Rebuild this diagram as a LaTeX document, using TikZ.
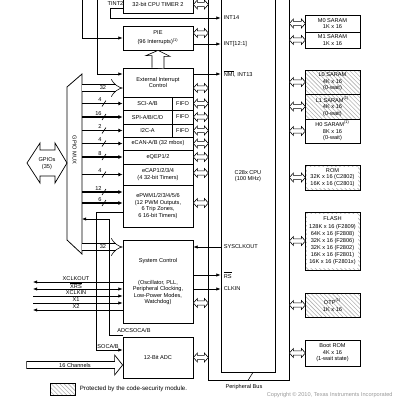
\documentclass[tikz,border=0pt]{standalone}
\usepackage{fontspec}
\setmainfont{Liberation Sans}
\usetikzlibrary{arrows.meta,patterns}

\newcommand{\bidir}[2]{\draw[fill=white,line width=0.4pt] (#1) -- ++(4,-4.5) -- ++(0,2.3) -- ++(#2-8,0) -- ++(0,-2.3) -- ++(4,4.5) -- ++(-4,4.5) -- ++(0,-2.3) -- ++(-#2+8,0) -- ++(0,2.3) -- cycle;}

\begin{document}
\begin{tikzpicture}[x=0.25mm,y=-0.25mm,
  every node/.style={font=\fontsize{4}{4.6}\selectfont,align=center,inner sep=0.4pt},
  blk/.style={draw,line width=0.55pt,inner sep=0pt},
  per/.style={blk,minimum width=17.5mm},
  mem/.style={blk,minimum width=13.75mm},
  prot/.style={pattern=north west lines,pattern color=black!30},
  pin/.style={line width=0.45pt,-{Latex[length=3pt,width=2.4pt]}},
  gp/.style={line width=0.9pt,-{Latex[length=3pt,width=2.8pt]}},
  bus32/.style={double,double distance=4.2pt,line width=0.4pt,-{Implies}}]
\clip (0,0) rectangle (400,400);

\node[blk,minimum width=20.25mm,minimum height=96.25mm] (pbus) at (248.5,187.5) {};
\node[blk,minimum width=13.5mm,minimum height=94.25mm] (cpu) at (248,183.5) {};
\node (cpulbl) at (248,176) {C28x CPU\\(100 MHz)};
\node (pblbl) at (244,387) {Peripheral Bus};
\draw ([xshift=-0.125mm]pbus.south) -- ([xshift=1.25mm]cpu.south);

\node[per,minimum height=4.25mm] (tim2) at (158,4.5) {32-bit CPU TIMER 2};
\node[per,minimum height=6mm] (pie) at (158,38) {PIE\\[1.8pt](96 Interrupts)\textsuperscript{(1)}};
\node[per,minimum height=7.25mm] (extint) at (158,82.5) {External Interrupt\\Control};
\node[blk,minimum width=12.25mm,minimum height=3.25mm] (sci) at (147.5,103.5) {SCI-A/B};
\node[blk,minimum width=5.25mm,minimum height=3.25mm] (scif) at (182.5,103.5) {FIFO};
\node[blk,minimum width=12.25mm,minimum height=3.5mm] (spi) at (147.5,117) {SPI-A/B/C/D};
\node[blk,minimum width=5.25mm,minimum height=3.5mm] (spif) at (182.5,117) {FIFO};
\node[blk,minimum width=12.25mm,minimum height=3.25mm] (i2c) at (147.5,130.5) {I2C-A};
\node[blk,minimum width=5.25mm,minimum height=3.25mm] (i2cf) at (182.5,130.5) {FIFO};
\node[per,minimum height=3.25mm] (ecan) at (158,143.5) {eCAN-A/B (32 mbox)};
\node[per,minimum height=3.5mm] (eqep) at (158,157) {eQEP1/2};
\node[per,minimum height=5.25mm] (ecap) at (158,174.5) {eCAP1/2/3/4\\(4 32-bit Timers)};
\node[per,minimum height=10.5mm] (epwm) at (158,206) {ePWM1/2/3/4/5/6\\(12 PWM Outputs,\\6 Trip Zones,\\6 16-bit Timers)};
\node[per,minimum height=20.75mm] (sysctl) at (158,281.5) {System Control\\[11pt](Oscillator, PLL,\\Peripheral Clocking,\\Low-Power Modes,\\Watchdog)};
\node[per,minimum height=10.25mm] (adc) at (158,357.5) {12-Bit ADC};

\node[mem,minimum height=4.25mm] (m0) at (332.5,23.5) {M0 SARAM\\1K x 16};
\node[mem,minimum height=4mm] (m1) at (332.5,40) {M1 SARAM\\1K x 16};
\node[mem,prot,minimum height=6mm] (l0) at (332.5,82) {L0 SARAM\\4K x 16\\(0-wait)};
\node[mem,prot,minimum height=6.25mm] (l1) at (332.5,106.5) {L1 SARAM\textsuperscript{(1)}\\4K x 16\\(0-wait)};
\node[mem,minimum height=6mm] (h0) at (332.5,131) {H0 SARAM\textsuperscript{(1)}\\8K x 16\\(0-wait)};
\node[mem,prot,minimum height=6.25mm] (rom) at (332.5,177.5) {};
\node[fill=white,minimum width=12.75mm,minimum height=5.25mm] (romtxt) at (rom) {ROM\\32K x 16 (C2802)\\16K x 16 (C2801)};
\node[mem,prot,minimum height=14.5mm] (flash) at (332.5,241) {};
\node[fill=white,minimum width=12.75mm,minimum height=13.5mm] (flashtxt) at (flash) {FLASH\\[0.5pt]128K x 16 (F2809)\\[0.5pt]64K x 16 (F2808)\\[0.5pt]32K x 16 (F2806)\\[0.5pt]32K x 16 (F2802)\\[0.5pt]16K x 16 (F2801)\\[0.5pt]16K x 16 (F2801x)};
\node[mem,prot,minimum height=6mm] (otp) at (332.5,305) {OTP\textsuperscript{(1)}\\1K x 16};
\node[mem,minimum height=6.5mm] (boot) at (332.5,353) {Boot ROM\\4K x 16\\(1-wait state)};

\coordinate (pie1) at ([yshift=1.25mm]pie.east);
\coordinate (ext1) at ([yshift=-1.375mm]extint.east);
\coordinate (ecap1) at ([yshift=0.375mm]ecap.east);
\coordinate (epwm1) at ([yshift=0.75mm]epwm.east);
\coordinate (sys1) at ([yshift=-5.375mm]sysctl.east);
\foreach \a in {tim2.east,pie1,ext1,scif.east,spif.east,i2cf.east,ecan.east,eqep.east,ecap1,epwm1,sys1,adc.east}
  \bidir{\a}{15};
\foreach \m in {m0,m1,l0,l1,h0,rom,flash,otp,boot}
  \bidir{\m.west -| pbus.east}{16};

\draw[fill=white,line width=0.45pt] ([xshift=-1.5mm]extint.north) -- ++(0,-12) -- ++(-6,0) -- (pie.south) -- ++(12,6) -- ++(-6,0) -- ++(0,12);

\coordinate (tint0) at (82,-5);
\coordinate (tint1) at (97,-5);
\coordinate (t2) at (110,18);
\coordinate (nmi) at ([yshift=2.125mm]extint.west);
\draw[pin] ([yshift=-1mm]tim2.west) -| (t2) -- (t2 -| cpu.west);
\node (tint2lbl) at (115.5,3.5) {TINT2};
\draw[pin] (tint0) |- (pie.west);
\draw[pin] (tint1) |- (nmi);
\draw[pin] ([yshift=-1.5mm]pie.east) -- ([yshift=-1.5mm]pie.east -| cpu.west);
\draw[pin] ([yshift=2.125mm]extint.east) -- ([yshift=2.125mm]extint.east -| cpu.west);
\node[anchor=west] (int14) at (223,18) {INT14};
\node[anchor=west] (int12) at (223,44) {INT[12:1]};
\node[anchor=west] (int13) at (223,74) {$\overline{\mbox{NMI}}$, INT13};

\coordinate (sck) at ([yshift=8.625mm]sysctl.east);
\coordinate (rs) at ([yshift=1.625mm]sysctl.east);
\coordinate (clk) at ([yshift=-1.875mm]sysctl.east);
\draw[pin] (sck -| cpu.west) -- (sck);
\draw[pin] (rs) -- (rs -| cpu.west);
\draw[pin] (clk) -- (clk -| cpu.west);
\node[anchor=west] (scklbl) at (223,247) {SYSCLKOUT};
\node[anchor=west] (rslbl) at (223,275) {$\overline{\mbox{RS}}$};
\node[anchor=west] (clklbl) at (223,289) {CLKIN};

\draw[line width=0.55pt] (67,87) -- (82,74) -- (82,254) -- (67,240) -- cycle;
\coordinate (muxE) at (82,0);
\node[rotate=-90] (muxlbl) at (74.5,150) {GPIO MUX};
\draw[line width=0.5pt] (27,163) -- (40,143) -- (40,150) -- (55,150) -- (55,143) -- (67,163) -- (55,183) -- (55,176) -- (40,176) -- (40,183) -- cycle;
\node (gpiolbl) at (47,163.5) {GPIOs\\(35)};

\coordinate (pw1) at ([yshift=3.5mm]epwm.west);
\coordinate (pw2) at ([yshift=0.75mm]epwm.west);
\foreach \p/\n in {sci.west/4,spi.west/16,i2c.west/2,ecan.west/4,eqep.west/8,ecap.west/4,pw1/12,pw2/6}{
  \draw[gp] (\p -| muxE) -- (\p);
  \path (\p -| muxE) ++(22,0) coordinate (s);
  \draw[line width=0.4pt] (s) ++(-2,3) -- ++(4,-6);
  \node[anchor=south east] at ([xshift=-0.4mm,yshift=0.2mm]s) {\n};
}
\coordinate (e32) at ([yshift=-1.375mm]extint.west);
\coordinate (s32) at ([yshift=8.625mm]sysctl.west);
\draw[bus32] (e32 -| muxE) -- (e32);
\draw[bus32] (s32 -| muxE) -- (s32);
\node (e32lbl) at (103,88) {32};
\node (s32lbl) at (103,247) {32};

\coordinate (soc1) at ([yshift=-1.5mm]epwm.west);
\coordinate (soc2) at ([yshift=1.875mm]adc.west);
\draw[pin] (soc1) -- ++(-26,0) |- (soc2);
\node (soclbl) at (108,346) {SOCA/B};
\coordinate (adcs) at ([yshift=0.25mm]adc.north west);
\coordinate (sync) at ([yshift=-3.25mm]epwm.west);
\draw[pin] (adcs) -- ++(-13,0) |- (sync -| muxE);
\node (adcslbl) at (134,330) {ADCSOCA/B};

\coordinate (xco) at (33,282);
\coordinate (xrs) at (33,289);
\coordinate (xci) at (33,296);
\coordinate (xone) at (33,303);
\coordinate (xtwo) at (33,310);
\draw[pin] (xco -| sysctl.west) -- (xco);
\draw[pin,{Latex[length=3pt,width=2.4pt]}-{Latex[length=3pt,width=2.4pt]}] (xrs) -- (xrs -| sysctl.west);
\draw[pin] (xci) -- (xci -| sysctl.west);
\draw[pin] (xone) -- (xone -| sysctl.west);
\draw[pin] (xtwo -| sysctl.west) -- (xtwo);
\node (xcolbl) at (76,278.5) {XCLKOUT};
\node (xrslbl) at (76,285.5) {$\overline{\mbox{XRS}}$};
\node (xcilbl) at (76,292.5) {XCLKIN};
\node (xonelbl) at (76,299.5) {X1};
\node (xtwolbl) at (76,306.5) {X2};

\coordinate (ch) at ([yshift=-1.875mm]adc.west);
\draw[fill=white,line width=0.5pt] (ch) -- ++(-8,-10) -- ++(0,6.5) -- ++(-88,0) -- ++(0,7) -- ++(88,0) -- ++(0,6.5) -- cycle;
\node (chlbl) at (75,365) {16 Channels};

\draw[prot,line width=0.4pt] (50,383) rectangle (75,395);
\node[anchor=west,font=\fontsize{4.4}{5}\selectfont] (leg) at (79,389) {Protected by the code-security module.};
\node[anchor=west,text=black!40] (copy) at (266,395) {Copyright \textcopyright{} 2010, Texas Instruments Incorporated};
\end{tikzpicture}
\end{document}
